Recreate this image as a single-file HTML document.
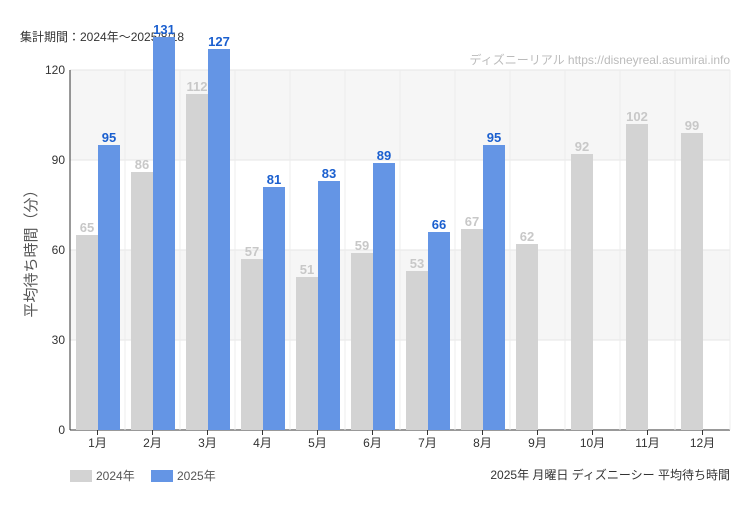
<!DOCTYPE html>
<html><head><meta charset="utf-8"><style>
body{margin:0;background:#fff;width:750px;height:500px;overflow:hidden;font-family:"Liberation Sans","Noto Sans CJK JP",sans-serif}
</style></head><body>
<svg id="c" width="750" height="500" xmlns="http://www.w3.org/2000/svg" font-family="Liberation Sans, Noto Sans CJK JP, sans-serif">
<rect x="0" y="0" width="750" height="500" fill="#fff"/>
<text x="20" y="41" font-size="12" fill="#333">集計期間：2024年～2025/8/18</text>
<text x="730" y="64" font-size="12" fill="#bbb" text-anchor="end">ディズニーリアル https://disneyreal.asumirai.info</text>
<text transform="translate(36,250) rotate(-90)" font-size="15" fill="#555" text-anchor="middle">平均待ち時間（分）</text>
<g id="grid"></g>
<g id="bars"></g>
<g id="labels"></g>
<rect x="70" y="470" width="22" height="12" fill="#d3d3d3"/>
<text x="96" y="480" font-size="12" fill="#555">2024年</text>
<rect x="151" y="470" width="22" height="12" fill="#6495e5"/>
<text x="177" y="480" font-size="12" fill="#555">2025年</text>
<text x="730" y="479" font-size="12" fill="#333" text-anchor="end">2025年 月曜日 ディズニーシー 平均待ち時間</text>
</svg>
<script>
const categories=["1月","2月","3月","4月","5月","6月","7月","8月","9月","10月","11月","12月"];
const series2024=[65,86,112,57,51,59,53,67,62,92,102,99];
const series2025=[95,131,127,81,83,89,66,95,null,null,null,null];
const yTicks=[0,30,60,90,120];
const NS="http://www.w3.org/2000/svg";
const L=70,R=730,T=70,B=430,YMAX=120;
const bw=(R-L)/categories.length;
const y=v=>B-(v/YMAX)*(B-T);
const x=i=>L+i*bw;
function mk(tag,attrs,parent,text){const e=document.createElementNS(NS,tag);for(const k in attrs)e.setAttribute(k,attrs[k]);if(text!==undefined)e.textContent=text;parent.appendChild(e);return e;}
const grid=document.getElementById('grid'),bars=document.getElementById('bars'),labels=document.getElementById('labels');
for(let i=0;i<yTicks.length-1;i++){
  if(i%2===1){const r=mk('rect',{x:L,y:y(yTicks[i+1]),width:R-L,height:y(yTicks[i])-y(yTicks[i+1]),fill:'#f6f6f6'},grid);
  
  }
}
yTicks.forEach(t=>{
  const l=mk('line',{x1:L,x2:R,y1:y(t),y2:y(t),stroke:t===0?'#333':'#e6e6e6'},grid);
  
  
  const tx=mk('text',{x:L-5,y:y(t)+4,'font-size':12,fill:'#333','text-anchor':'end'},grid,String(t));
  
  
});
for(let i=0;i<=categories.length;i++){
  const l=mk('line',{x1:x(i),x2:x(i),y1:T,y2:B,stroke:'#ececec'},grid);
  
  
}
mk('line',{x1:L,x2:L,y1:T,y2:B,stroke:'#333'},grid);
categories.forEach((c,i)=>{
  const cx=x(i)+bw/2;
  const tk=mk('line',{x1:cx,x2:cx,y1:B,y2:B+5,stroke:'#333'},grid);
  
  
  const t=mk('text',{x:cx,y:B+17,'font-size':12,fill:'#333','text-anchor':'middle'},grid,c);
  
  
  const w=22;
  [[series2024[i],cx-w+0.5,'#d3d3d3','#c8c8c8','2024'],[series2025[i],cx+0.5,'#6495e5','#1a5fcf','2025']].forEach(([v,bx,fill,lc,yr])=>{
    if(v==null)return;
    const r=mk('rect',{x:bx,y:y(v),width:w,height:B-y(v),fill:fill},bars);
    
    
    const lt=mk('text',{x:bx+w/2,y:y(v)-3,'font-size':13,'font-weight':'bold',fill:lc,'text-anchor':'middle','font-family':'Liberation Sans Narrow, Liberation Sans, sans-serif'},labels,String(v));
    
    
  });
});
</script>
</body></html>
